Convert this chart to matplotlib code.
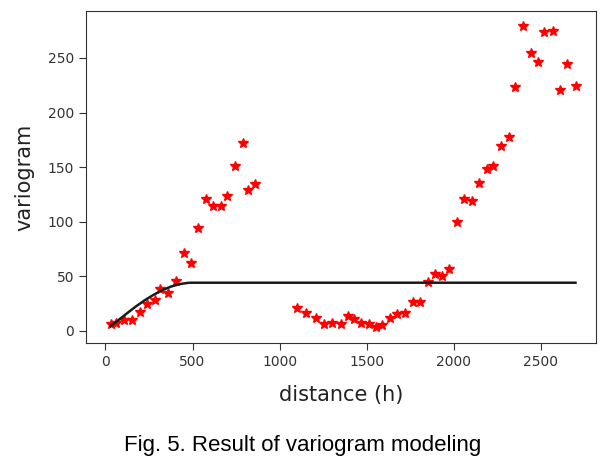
import matplotlib
matplotlib.use("Agg")
import matplotlib.pyplot as plt

plt.rcParams['font.family'] = ['DejaVu Sans']

# Experimental variogram (lag distance, semivariance)
lag_h = [29, 63, 106, 150, 196, 240, 282, 316, 361, 407, 451, 489, 533, 579,
         618, 661, 700, 744, 790, 821, 859,
         1102, 1150, 1208, 1256, 1300, 1355, 1396, 1428, 1466, 1511, 1553,
         1591, 1633, 1677, 1722, 1768, 1806, 1850, 1894, 1932, 1971, 2017,
         2061, 2105, 2147, 2189, 2228, 2271, 2316, 2354, 2400, 2444, 2482,
         2521, 2569, 2611, 2649, 2703]
gamma = [6.4, 7.6, 10.0, 10.0, 17.4, 24.7, 28.0, 38.8, 35.0, 45.8, 71.7, 62.0,
         94.0, 120.6, 114.7, 114.7, 123.6, 151.0, 171.7, 129.0, 134.7,
         20.8, 16.8, 11.6, 6.4, 7.6, 6.4, 13.7, 10.7, 7.6, 6.4, 3.4,
         5.5, 11.6, 15.5, 16.8, 26.8, 26.8, 45.2, 52.2, 50.4, 57.0, 99.5,
         120.6, 119.0, 135.8, 148.0, 151.0, 169.4, 178.0, 223.0, 279.6, 255.0, 246.0,
         273.5, 275.0, 220.7, 244.5, 224.6]

# Fitted model curve
model_h = [29, 75, 125, 175, 225, 275, 325, 375, 425, 475, 495, 2700]
model_g = [4.5, 10.0, 16.4, 22.5, 28.1, 33.0, 37.3, 40.6, 42.9, 44.1, 44.2, 44.2]

xticks = [0, 500, 1000, 1500, 2000, 2500]
yticks = [0, 50, 100, 150, 200, 250]

fig = plt.figure(figsize=(6.16, 4.63), dpi=100)
ax = fig.add_axes([86/616, 1 - 343/463, (596 - 86)/616, (343 - 11)/463])

ax.plot(lag_h, gamma, 'r*', markersize=7, linestyle='none')
ax.plot(model_h, model_g, color='#1a1a1a', linewidth=1.8)

ax.set_xlim(-112, 2818)
ax.set_ylim(-11, 293)
ax.set_xticks(xticks)
ax.set_yticks(yticks)
ax.tick_params(labelsize=10, length=5, color='#333333', labelcolor='#333333')
for s in ax.spines.values():
    s.set_color('#333333')

ax.set_xlabel('distance (h)', fontsize=15, labelpad=12, color='#222222')
ax.set_ylabel('variogram', fontsize=15, labelpad=10, color='#222222')

fig.text(303 / 616, 1 - 445/463, 'Fig. 5. Result of variogram modeling',
         ha='center', va='center', fontsize=16,
         family=['Liberation Sans', 'DejaVu Sans'], color='black')

fig.savefig('out.png', dpi=100)
